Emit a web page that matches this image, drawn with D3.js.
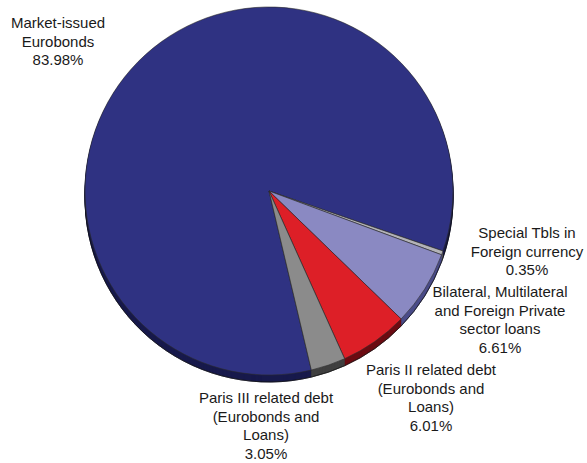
<!DOCTYPE html>
<html>
<head>
<meta charset="utf-8">
<script src="https://cdn.jsdelivr.net/npm/d3@7"></script>
<style>
  html, body { margin: 0; padding: 0; background: #fff; }
  svg { display: block; }
  text { font-family: "Liberation Sans", Arial, Helvetica, sans-serif; fill: #1a1a1a; }
</style>
</head>
<body>
<svg id="chart" width="587" height="463"></svg>
<script>
// Composition of external debt (% of total)
const categories = [
  "Market-issued Eurobonds",
  "Special Tbls in Foreign currency",
  "Bilateral, Multilateral and Foreign Private sector loans",
  "Paris II related debt (Eurobonds and Loans)",
  "Paris III related debt (Eurobonds and Loans)"
];
const shares = [83.98, 0.35, 6.61, 6.01, 3.05];

// Wrapped label lines for each category
const labelLines = [
  ["Market-issued", "Eurobonds"],
  ["Special Tbls in", "Foreign currency"],
  ["Bilateral, Multilateral", "and Foreign Private", "sector loans"],
  ["Paris II related debt", "(Eurobonds and", "Loans)"],
  ["Paris III related debt", "(Eurobonds and", "Loans)"]
];

// Slice palette (top face) and side (rim) shades
const topColors  = ["#2f3282", "#b3b3b8", "#8a89c2", "#dd1f27", "#8b8b8b"];
const sideColors = ["#181a4c", "#55555a", "#4a4b88", "#6c0b12", "#404040"];

// Label anchors (centre x, first baseline y)
const labelAnchors = [
  [58, 28], [527, 238], [500, 297], [431, 375], [266, 403]
];

const svg = d3.select("#chart");
const cx = 269, cy = 191, R = 184, depth = 7;
const startAngle = 166.7 * Math.PI / 180;

const pie = d3.pie()
  .sort(null)
  .value(d => d)
  .startAngle(startAngle)
  .endAngle(startAngle + 2 * Math.PI);
const arcs = pie(shares);
const arc = d3.arc().innerRadius(0).outerRadius(R);

// Side of the disc: stacked copies shifted downward
const side = svg.append("g");
for (let k = depth; k >= 1; k--) {
  side.append("g")
    .attr("transform", `translate(${cx},${cy + k})`)
    .selectAll("path")
    .data(arcs)
    .join("path")
    .attr("d", arc)
    .attr("fill", (d, i) => sideColors[i])
    .attr("stroke", (d, i) => sideColors[i])
    .attr("stroke-width", 0.6);
}
// thin dark outline around the side edge
svg.append("g")
  .attr("transform", `translate(${cx},${cy + depth})`)
  .selectAll("path")
  .data(arcs)
  .join("path")
  .attr("d", d3.arc().innerRadius(R).outerRadius(R))
  .attr("fill", "none")
  .attr("stroke", "#111")
  .attr("stroke-width", 0.5);

// Top face
svg.append("g")
  .attr("transform", `translate(${cx},${cy})`)
  .selectAll("path")
  .data(arcs)
  .join("path")
  .attr("d", arc)
  .attr("fill", (d, i) => topColors[i])
  .attr("stroke", "#2a2a2a")
  .attr("stroke-width", 0.6)
  .attr("stroke-linejoin", "round");

// Labels
const fmt = d3.format(".2f");
const lineH = 18.5;
const labels = svg.append("g").attr("font-size", 15).attr("text-anchor", "middle");
categories.forEach((c, i) => {
  const [lx, ly] = labelAnchors[i];
  const lines = labelLines[i].concat([fmt(shares[i]) + "%"]);
  const t = labels.append("text").attr("x", lx).attr("y", ly);
  lines.forEach((s, j) => {
    t.append("tspan").attr("x", lx).attr("dy", j === 0 ? 0 : lineH).text(s);
  });
});
</script>
</body>
</html>
